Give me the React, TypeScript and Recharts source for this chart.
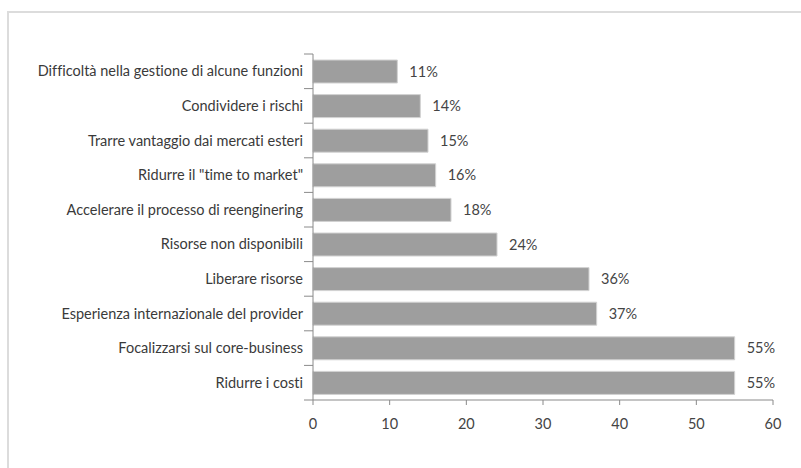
import React from 'react';
import { BarChart, Bar, XAxis, YAxis, LabelList } from 'recharts';

const categories = [
  'Difficoltà nella gestione di alcune funzioni',
  'Condividere i rischi',
  'Trarre vantaggio dai mercati esteri',
  'Ridurre il "time to market"',
  'Accelerare il processo di reenginering',
  'Risorse non disponibili',
  'Liberare risorse',
  'Esperienza internazionale del provider',
  'Focalizzarsi sul core-business',
  'Ridurre i costi',
];
const percentages = [11, 14, 15, 16, 18, 24, 36, 37, 55, 55];
const xTicks = [0, 10, 20, 30, 40, 50, 60];

const data = categories.map((name, i) => ({ name, value: percentages[i] }));

const FONT = 'Lato, "Liberation Sans", sans-serif';
const AXIS = '#8a8a8a';
const CHART_H = 468;
const MARGIN = { top: 54, right: 28, bottom: 38, left: 13 };
const X_AXIS_H = 30;
const LABEL_GAP = 10;
const BOUNDARY_TICK = 9;

// category label plus the small boundary ticks between the bars
function CategoryTick(props: any) {
  const { x, y, payload, index, visibleTicksCount } = props;
  const plotH = CHART_H - MARGIN.top - MARGIN.bottom - X_AXIS_H;
  const half = payload?.offset || plotH / categories.length / 2;
  const axisX = x + LABEL_GAP;
  const count = visibleTicksCount ?? categories.length;
  return (
    <g>
      <text x={x} y={y} dy="0.355em" textAnchor="end" fill="#3a3a3a" fontSize={14.5}>
        {payload.value}
      </text>
      <line x1={axisX - BOUNDARY_TICK} x2={axisX} y1={y - half} y2={y - half} stroke={AXIS} />
      {index === count - 1 && (
        <line x1={axisX - BOUNDARY_TICK} x2={axisX} y1={y + half} y2={y + half} stroke={AXIS} />
      )}
    </g>
  );
}

export default function App() {
  return (
    <div style={{ position: 'absolute', left: 0, top: 0, width: 801, height: 468, background: '#fff' }}>
      <div
        style={{
          position: 'absolute',
          left: 7,
          top: 11,
          right: 0,
          bottom: 0,
          borderTop: '2px solid #dcdcdc',
          borderLeft: '2px solid #dcdcdc',
        }}
      />
      <div style={{ position: 'absolute', left: 0, top: 0 }}>
        <BarChart
          width={801}
          height={CHART_H}
          data={data}
          layout="vertical"
          margin={MARGIN}
          style={{ fontFamily: FONT, fontVariantLigatures: 'none' }}
        >
          <XAxis
            type="number"
            domain={[0, 60]}
            ticks={xTicks}
            height={X_AXIS_H}
            tickSize={5}
            tickMargin={14}
            stroke={AXIS}
            tick={{ fill: '#444', fontSize: 14.5 }}
          />
          <YAxis
            type="category"
            dataKey="name"
            width={300}
            stroke={AXIS}
            tickLine={false}
            tickSize={0}
            tickMargin={LABEL_GAP}
            interval={0}
            tick={<CategoryTick />}
          />
          <Bar
            dataKey="value"
            fill="#9e9e9e"
            stroke="#d2d2d2"
            strokeWidth={1}
            barSize={23}
            isAnimationActive={false}
          >
            <LabelList
              dataKey="value"
              position="right"
              offset={12}
              formatter={(v: any) => `${v}%`}
              style={{ fill: '#444', fontSize: 14.5 }}
            />
          </Bar>
        </BarChart>
      </div>
    </div>
  );
}
